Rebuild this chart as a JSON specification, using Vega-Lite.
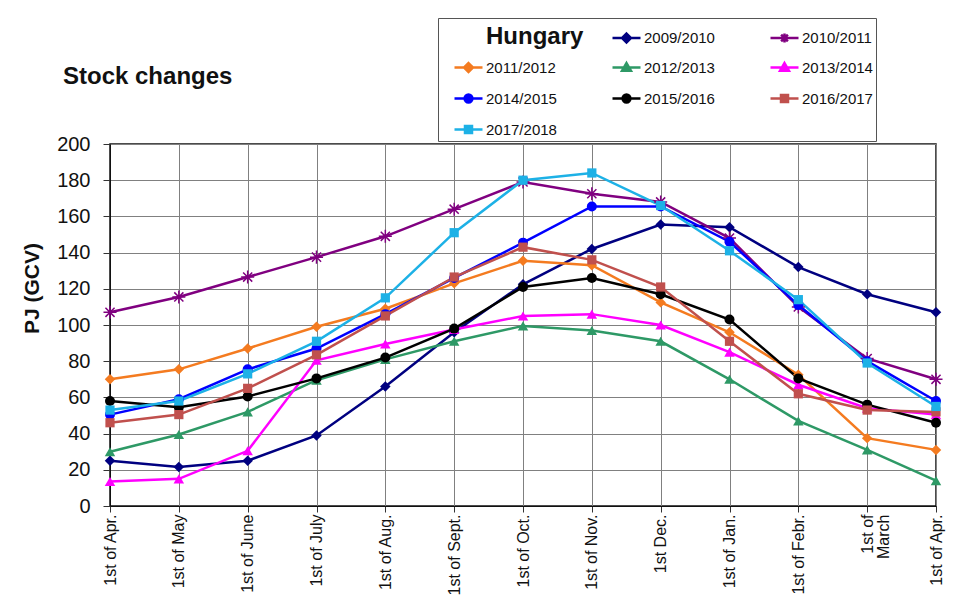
{
  "$schema": "https://vega.github.io/schema/vega-lite/v6.json",
  "width": 826,
  "height": 362,
  "autosize": {"type": "none"},
  "padding": {"left": 110, "top": 144, "right": 25, "bottom": 89},
  "background": "white",
  "title": {
    "text": "Stock changes",
    "anchor": "start",
    "frame": "group",
    "dx": -47,
    "offset": 0,
    "dy": 90,
    "baseline": "alphabetic",
    "fontSize": 24,
    "fontWeight": "bold",
    "font": "Liberation Sans",
    "color": "#111"
  },
  "config": {
    "font": "Liberation Sans",
    "view": {"stroke": "#111", "strokeWidth": 1.5},
    "axis": {"gridColor": "#808080", "gridWidth": 1, "gridOpacity": 1, "domainColor": "#111", "tickColor": "#333", "labelColor": "#111", "titleColor": "#111"}
  },
  "data": {
    "values": [
      {"s":"2009/2010","m":0,"v":25},{"s":"2009/2010","m":1,"v":21.5},{"s":"2009/2010","m":2,"v":25},{"s":"2009/2010","m":3,"v":39},{"s":"2009/2010","m":4,"v":66},{"s":"2009/2010","m":5,"v":96},{"s":"2009/2010","m":6,"v":122.5},{"s":"2009/2010","m":7,"v":142},{"s":"2009/2010","m":8,"v":155.5},{"s":"2009/2010","m":9,"v":154},{"s":"2009/2010","m":10,"v":132},{"s":"2009/2010","m":11,"v":117},{"s":"2009/2010","m":12,"v":107},
      {"s":"2010/2011","m":0,"v":107},{"s":"2010/2011","m":1,"v":115.5},{"s":"2010/2011","m":2,"v":126.5},{"s":"2010/2011","m":3,"v":137.5},{"s":"2010/2011","m":4,"v":149},{"s":"2010/2011","m":5,"v":164},{"s":"2010/2011","m":6,"v":179},{"s":"2010/2011","m":7,"v":172.5},{"s":"2010/2011","m":8,"v":168},{"s":"2010/2011","m":9,"v":148},{"s":"2010/2011","m":10,"v":110},{"s":"2010/2011","m":11,"v":81.5},{"s":"2010/2011","m":12,"v":70},
      {"s":"2011/2012","m":0,"v":70},{"s":"2011/2012","m":1,"v":75.5},{"s":"2011/2012","m":2,"v":87},{"s":"2011/2012","m":3,"v":99},{"s":"2011/2012","m":4,"v":109},{"s":"2011/2012","m":5,"v":123},{"s":"2011/2012","m":6,"v":135.5},{"s":"2011/2012","m":7,"v":133},{"s":"2011/2012","m":8,"v":112.5},{"s":"2011/2012","m":9,"v":96},{"s":"2011/2012","m":10,"v":72.5},{"s":"2011/2012","m":11,"v":37.5},{"s":"2011/2012","m":12,"v":31},
      {"s":"2012/2013","m":0,"v":30},{"s":"2012/2013","m":1,"v":39.5},{"s":"2012/2013","m":2,"v":52},{"s":"2012/2013","m":3,"v":69.5},{"s":"2012/2013","m":4,"v":81},{"s":"2012/2013","m":5,"v":91},{"s":"2012/2013","m":6,"v":99.5},{"s":"2012/2013","m":7,"v":97},{"s":"2012/2013","m":8,"v":91},{"s":"2012/2013","m":9,"v":70},{"s":"2012/2013","m":10,"v":47},{"s":"2012/2013","m":11,"v":31},{"s":"2012/2013","m":12,"v":14},
      {"s":"2013/2014","m":0,"v":13.5},{"s":"2013/2014","m":1,"v":15},{"s":"2013/2014","m":2,"v":30.5},{"s":"2013/2014","m":3,"v":80.5},{"s":"2013/2014","m":4,"v":89.5},{"s":"2013/2014","m":5,"v":97.5},{"s":"2013/2014","m":6,"v":105},{"s":"2013/2014","m":7,"v":106},{"s":"2013/2014","m":8,"v":100},{"s":"2013/2014","m":9,"v":85},{"s":"2013/2014","m":10,"v":67},{"s":"2013/2014","m":11,"v":54},{"s":"2013/2014","m":12,"v":50.5},
      {"s":"2014/2015","m":0,"v":50.5},{"s":"2014/2015","m":1,"v":59},{"s":"2014/2015","m":2,"v":75.5},{"s":"2014/2015","m":3,"v":87},{"s":"2014/2015","m":4,"v":106},{"s":"2014/2015","m":5,"v":126},{"s":"2014/2015","m":6,"v":145.5},{"s":"2014/2015","m":7,"v":165.5},{"s":"2014/2015","m":8,"v":165.5},{"s":"2014/2015","m":9,"v":146},{"s":"2014/2015","m":10,"v":111},{"s":"2014/2015","m":11,"v":80},{"s":"2014/2015","m":12,"v":58},
      {"s":"2015/2016","m":0,"v":58},{"s":"2015/2016","m":1,"v":54.5},{"s":"2015/2016","m":2,"v":60.5},{"s":"2015/2016","m":3,"v":70.5},{"s":"2015/2016","m":4,"v":82},{"s":"2015/2016","m":5,"v":98},{"s":"2015/2016","m":6,"v":121},{"s":"2015/2016","m":7,"v":126},{"s":"2015/2016","m":8,"v":117},{"s":"2015/2016","m":9,"v":103},{"s":"2015/2016","m":10,"v":70.5},{"s":"2015/2016","m":11,"v":56},{"s":"2015/2016","m":12,"v":46},
      {"s":"2016/2017","m":0,"v":46},{"s":"2016/2017","m":1,"v":50.5},{"s":"2016/2017","m":2,"v":65},{"s":"2016/2017","m":3,"v":83.5},{"s":"2016/2017","m":4,"v":105},{"s":"2016/2017","m":5,"v":126.5},{"s":"2016/2017","m":6,"v":143},{"s":"2016/2017","m":7,"v":136},{"s":"2016/2017","m":8,"v":121},{"s":"2016/2017","m":9,"v":91},{"s":"2016/2017","m":10,"v":62},{"s":"2016/2017","m":11,"v":53},{"s":"2016/2017","m":12,"v":52},
      {"s":"2017/2018","m":0,"v":53},{"s":"2017/2018","m":1,"v":58},{"s":"2017/2018","m":2,"v":73},{"s":"2017/2018","m":3,"v":91},{"s":"2017/2018","m":4,"v":115},{"s":"2017/2018","m":5,"v":151},{"s":"2017/2018","m":6,"v":180},{"s":"2017/2018","m":7,"v":184},{"s":"2017/2018","m":8,"v":166},{"s":"2017/2018","m":9,"v":141},{"s":"2017/2018","m":10,"v":114},{"s":"2017/2018","m":11,"v":79},{"s":"2017/2018","m":12,"v":55}
    ]
  },
  "encoding": {
    "x": {
      "field": "m", "type": "quantitative",
      "scale": {"domain": [0, 12], "nice": false, "zero": false},
      "axis": {
        "title": null,
        "values": [0,1,2,3,4,5,6,7,8,9,10,11,12],
        "labelExpr": "[['1st of Apr.'],['1st of May'],['1st of June'],['1st of July'],['1st of Aug.'],['1st of Sept.'],['1st of Oct.'],['1st of Nov.'],['1st Dec.'],['1st of Jan.'],['1st of Febr.'],['1st of','March'],['1st of Apr.']][datum.value]",
        "labelAngle": -90,
        "labelAlign": "right",
        "labelBaseline": "middle",
        "labelFontSize": 16,
        "labelLineHeight": 16,
        "labelPadding": 2,
        "tickSize": 6,
        "labelOverlap": false,
        "labelFlush": false,
        "labelBound": false,
        "grid": true
      }
    },
    "y": {
      "field": "v", "type": "quantitative",
      "scale": {"domain": [0, 200], "nice": false},
      "axis": {
        "title": "PJ (GCV)",
        "values": [0,20,40,60,80,100,120,140,160,180,200],
        "labelFontSize": 20,
        "labelPadding": 13,
        "tickSize": 7,
        "titleFontSize": 21,
        "titleFontWeight": "bold",
        "titleX": -68,
        "titleY": 144,
        "titleBaseline": "bottom",
        "grid": true
      }
    },
    "color": {
      "field": "s", "type": "nominal",
      "scale": {
        "domain": ["Hungary","2009/2010","2010/2011","2011/2012","2012/2013","2013/2014","2014/2015","2015/2016","2016/2017","2017/2018"],
        "range": ["transparent","#000080","#800080","#F47B20","#2E9966","#FF00FF","#0000FF","#000000","#C0504D","#1DB1E6"]
      },
      "legend": {
        "title": "\u00a0",
        "titleOrient": "left",
        "titleFontSize": 8,
        "titlePadding": 12,
        "orient": "none",
        "direction": "horizontal",
        "legendX": 328,
        "legendY": -126,
        "columns": 3,
        "gridAlign": "all",
        "columnPadding": 23,
        "rowPadding": 3,
        "padding": 3,
        "fillColor": "white",
        "strokeColor": "#555",
        "symbolSize": 784,
        "symbolStrokeWidth": 2.5,
        "labelOffset": 2,
        "labelFontSize": 15,
        "labelColor": "#111",
        "labelExpr": "(datum.label === '2010/2011' || datum.label === '2013/2014' || datum.label === '2016/2017') ? datum.label + '\u00a0\u00a0\u00a0\u00a0\u00a0\u00a0\u00a0\u00a0\u00a0' : datum.label",
        "encode": {
          "symbols": {
            "update": {
              "shape": {"signal": "datum.value === 'Hungary' ? 'M0,0' : (datum.value === '2009/2010' || datum.value === '2011/2012') ? 'M-1,0H1M0,-0.32L0.32,0L0,0.32L-0.32,0Z' : datum.value === '2010/2011' ? 'M-1,0H1M0,-0.32V0.32M-0.24,-0.24L0.24,0.24M-0.24,0.24L0.24,-0.24' : (datum.value === '2012/2013' || datum.value === '2013/2014') ? 'M-1,0H1M0,-0.32L0.32,0.24L-0.32,0.24Z' : (datum.value === '2014/2015' || datum.value === '2015/2016') ? 'M-1,0H1M0.28,0A0.28,0.28,0,1,1,-0.28,0A0.28,0.28,0,1,1,0.28,0Z' : 'M-1,0H1M-0.25,-0.25H0.25V0.25H-0.25Z'"},
              "fill": {"signal": "scale('color', datum.value)"},
              "stroke": {"signal": "scale('color', datum.value)"},
              "strokeWidth": {"value": 2.5},
              "size": {"value": 784},
              "opacity": {"value": 1}
            }
          },
          "labels": {
            "update": {
              "fontSize": {"signal": "datum.value === 'Hungary' ? 24 : 15"},
              "fontWeight": {"signal": "datum.value === 'Hungary' ? 'bold' : 'normal'"}
            }
          }
        }
      }
    }
  },
  "layer": [
    {"mark": {"type": "line", "strokeWidth": 2.5}},
    {"transform": [{"filter": {"field": "s", "oneOf": ["2009/2010", "2011/2012"]}}], "mark": {"type": "point", "shape": "diamond", "filled": true, "opacity": 1, "size": 110}},
    {"transform": [{"filter": {"field": "s", "equal": "2010/2011"}}], "mark": {"type": "point", "shape": "M-1,0H1M0,-1V1M-0.7,-0.7L0.7,0.7M-0.7,0.7L0.7,-0.7", "filled": false, "opacity": 1, "size": 170, "strokeWidth": 1.5}},
    {"transform": [{"filter": {"field": "s", "oneOf": ["2012/2013", "2013/2014"]}}], "mark": {"type": "point", "shape": "triangle-up", "filled": true, "opacity": 1, "size": 110}},
    {"transform": [{"filter": {"field": "s", "oneOf": ["2014/2015", "2015/2016"]}}], "mark": {"type": "point", "shape": "circle", "filled": true, "opacity": 1, "size": 100}},
    {"transform": [{"filter": {"field": "s", "oneOf": ["2016/2017", "2017/2018"]}}], "mark": {"type": "point", "shape": "square", "filled": true, "opacity": 1, "size": 85}}
  ]
}
